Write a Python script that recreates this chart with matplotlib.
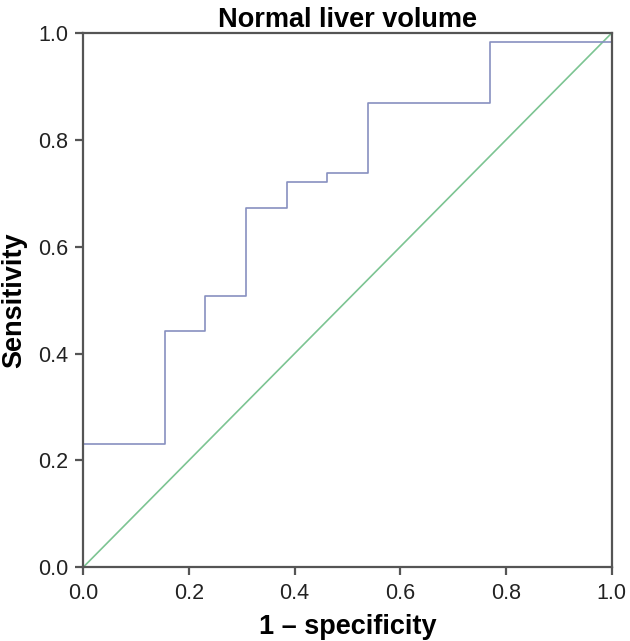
import matplotlib
matplotlib.use('Agg')
import matplotlib.pyplot as plt

plt.rcParams['font.family'] = ['Liberation Sans', 'DejaVu Sans']

# ROC curve corner points (1 - specificity, sensitivity)
fpr = [0.0, 0.0, 0.154, 0.154, 0.231, 0.231, 0.308, 0.308, 0.385, 0.385,
       0.462, 0.462, 0.538, 0.538, 0.769, 0.769, 1.0, 1.0]
tpr = [0.0, 0.23, 0.23, 0.443, 0.443, 0.508, 0.508, 0.672, 0.672, 0.721,
       0.721, 0.738, 0.738, 0.869, 0.869, 0.984, 0.984, 1.0]
ref_line = [0.0, 1.0]
ticks = [0.0, 0.2, 0.4, 0.6, 0.8, 1.0]

fig = plt.figure(figsize=(6.3, 6.41), dpi=100)
ax = fig.add_axes([0.132, 0.115, 0.839, 0.8335])

ax.plot(ref_line, ref_line, color='#7cc492', linewidth=1.2)
ax.plot(fpr, tpr, color='#8790c0', linewidth=1.2)

ax.set_xlim(0, 1)
ax.set_ylim(0, 1)
ax.set_xticks(ticks)
ax.set_yticks(ticks)
ax.set_xticklabels([f"{t:.1f}" for t in ticks])
ax.set_yticklabels([f"{t:.1f}" for t in ticks])

for s in ax.spines.values():
    s.set_color('#555555')
    s.set_linewidth(1.6)

ax.tick_params(direction='out', length=6, width=1.6, color='#555555',
               labelsize=15.5, labelcolor='#222222', pad=5)

ax.set_xlabel('1 – specificity', fontsize=19.5, fontweight='bold', labelpad=7.5)
ax.set_ylabel('Sensitivity', fontsize=19.5, fontweight='bold')
ax.yaxis.set_label_coords(-0.106, 0.5)
ax.set_title('Normal liver volume', fontsize=19.5, fontweight='bold', pad=4)

fig.savefig('out.png', dpi=100)
